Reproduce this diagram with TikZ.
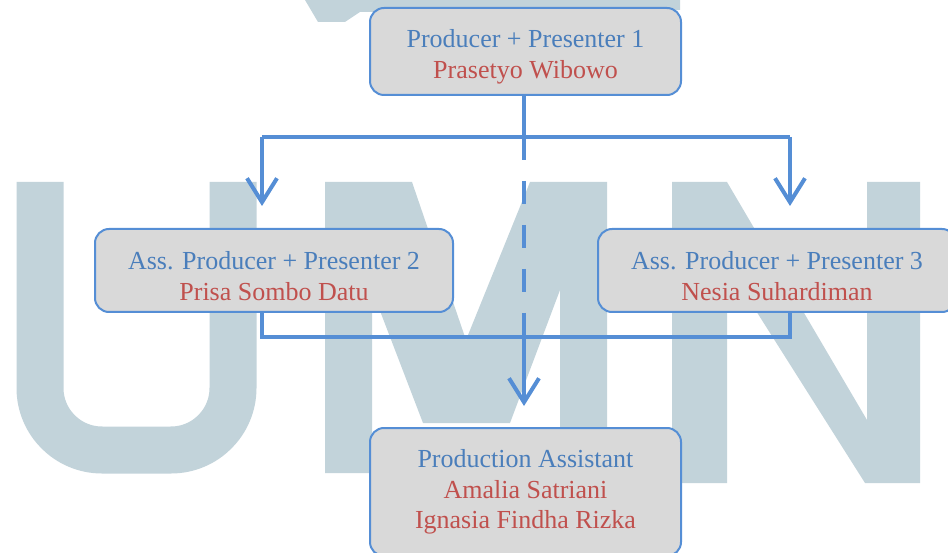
\documentclass[tikz,border=0pt]{standalone}
\usepackage{fontspec}
\setmainfont{Liberation Serif}
\usetikzlibrary{arrows.meta}

\definecolor{boxfill}{RGB}{217,217,217}
\definecolor{boxline}{RGB}{85,142,213}
\definecolor{roletext}{RGB}{74,126,187}
\definecolor{nametext}{RGB}{192,80,77}
\definecolor{umnmark}{RGB}{194,211,218}

% first line of a box sits a little low
\newcommand{\boxtop}{\rule{0pt}{29pt}}

\begin{document}
\begin{tikzpicture}[x=1pt, y=-1pt,
    crewbox/.style={rectangle, rounded corners=14pt, draw=boxline, line width=2pt,
        fill=boxfill, align=center, inner sep=0pt,
        font=\fontsize{26}{30.5}\selectfont},
    link/.style={draw=boxline, line width=4pt},
    tip/.style={-{Straight Barb[length=24pt, width=30pt]}}]
        \useasboundingbox (0,0) rectangle (948,553);

        % watermark behind everything
        \fill[umnmark] (305,0) -- (680,0) -- (680,10) -- (360,12) -- (345,22) -- (318,22) -- cycle;
        \draw[umnmark, line width=47pt, rounded corners=62pt] (40,182) -- (40,450) -- (233,450) -- (233,182);
        \fill[umnmark] (325,473) -- (325,182) -- (412,182) -- (466,340) -- (530,182) -- (607,182)
            -- (607,473) -- (560,473) -- (560,290) -- (510,423) -- (423,423) -- (372,290)
            -- (372,473) -- cycle;
        \fill[umnmark] (672,483) -- (672,182) -- (727,182) -- (867,420) -- (867,182) -- (920,182)
            -- (920,483) -- (865,483) -- (727,265) -- (727,483) -- cycle;

        \node[crewbox, minimum width=311pt, minimum height=87pt] (prod) at (525.5, 51.5)
            {\boxtop\textcolor{roletext}{Producer + Presenter 1}\\ \textcolor{nametext}{Prasetyo Wibowo}};
        \node[crewbox, minimum width=358pt, minimum height=83pt] (asstwo) at (274, 270.5)
            {\boxtop\textcolor{roletext}{Ass. Producer + Presenter 2}\\ \textcolor{nametext}{Prisa Sombo Datu}};
        \node[crewbox, minimum width=358pt, minimum height=83pt] (assthree) at (777, 270.5)
            {\boxtop\textcolor{roletext}{Ass. Producer + Presenter 3}\\ \textcolor{nametext}{Nesia Suhardiman}};
        \node[crewbox, minimum width=311pt, minimum height=128pt] (pa) at (525.5, 492)
            {\textcolor{roletext}{Production Assistant}\\ \textcolor{nametext}{Amalia Satriani}\\
             \textcolor{nametext}{Ignasia Findha Rizka}};

        \coordinate (split) at (524, 137);
        \coordinate (splitl) at (262, 137);
        \coordinate (splitr) at (790, 137);
        \coordinate (join) at (524, 337);
        \coordinate (joinl) at (262, 337);
        \coordinate (joinr) at (790, 337);

        \draw[link] (prod.south -| split) -- (split);
        \draw[link] (splitl) -- (splitr);
        \draw[link, tip, shorten >=22pt] (splitl) -- (splitl |- asstwo.north);
        \draw[link, tip, shorten >=22pt] (splitr) -- (splitr |- assthree.north);
        \draw[link, dash pattern=on 23pt off 21pt] (split) -- (join);
        \draw[link] (asstwo.south -| joinl) -- (joinl) -- (joinr) -- (assthree.south -| joinr);
        \draw[link, tip, shorten >=21pt] (join) -- (pa.north -| join);

    \end{tikzpicture}
\end{document}
